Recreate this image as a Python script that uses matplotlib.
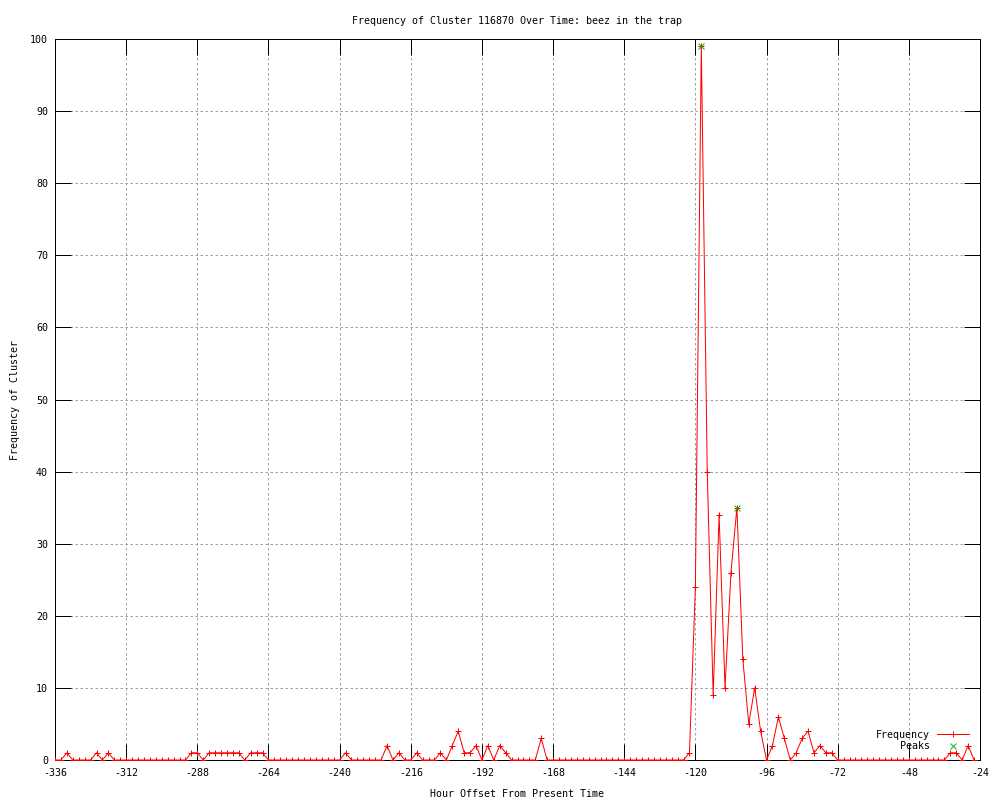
import matplotlib
matplotlib.use("Agg")
import matplotlib.pyplot as plt
import numpy as np

# hour offsets, one sample every 2 hours
hours = np.arange(-336, -24, 2)

# frequency per sample, 12 samples (24 h) per row
frequency = [
    0, 0, 1, 0, 0, 0, 0, 1, 0, 1, 0, 0,       # -336 .. -314
    0, 0, 0, 0, 0, 0, 0, 0, 0, 0, 0, 1,       # -312 .. -290
    1, 0, 1, 1, 1, 1, 1, 1, 0, 1, 1, 1,       # -288 .. -266
    0, 0, 0, 0, 0, 0, 0, 0, 0, 0, 0, 0,       # -264 .. -242
    0, 1, 0, 0, 0, 0, 0, 0, 2, 0, 1, 0,       # -240 .. -218
    0, 1, 0, 0, 0, 1, 0, 2, 4, 1, 1, 2,       # -216 .. -194
    0, 2, 0, 2, 1, 0, 0, 0, 0, 0, 3, 0,       # -192 .. -170
    0, 0, 0, 0, 0, 0, 0, 0, 0, 0, 0, 0,       # -168 .. -146
    0, 0, 0, 0, 0, 0, 0, 0, 0, 0, 0, 1,       # -144 .. -122
    24, 99, 40, 9, 34, 10, 26, 35, 14, 5, 10, 4,  # -120 .. -98
    0, 2, 6, 3, 0, 1, 3, 4, 1, 2, 1, 1,       # -96 .. -74
    0, 0, 0, 0, 0, 0, 0, 0, 0, 0, 0, 0,       # -72 .. -50
    0, 0, 0, 0, 0, 0, 0, 1, 1, 0, 2, 0,       # -48 .. -26
]

peak_hours = [-118, -106]
peak_values = [99, 35]

title = "Frequency of Cluster 116870 Over Time: beez in the trap"
xticks = np.arange(-336, -23, 24)
yticks = np.arange(0, 101, 10)

plt.rcParams['font.family'] = ['DejaVu Sans Mono']
plt.rcParams['font.size'] = 7.2

px = 0.72  # one pixel in points at dpi 100

fig = plt.figure(figsize=(10, 8), dpi=100)
ax = fig.add_axes([0.055, 0.05, 0.925, 0.90125])

ax.plot(hours, frequency, color='red', lw=px, marker='+', ms=5, mew=px,
        label='Frequency', zorder=3)
ax.plot(peak_hours, peak_values, color='#00c000', ls='none', marker='x',
        ms=5, mew=px, label='Peaks', zorder=4)

ax.set_xlim(-336, -24)
ax.set_ylim(0, 100)
ax.set_xticks(xticks)
ax.set_yticks(yticks)
ax.set_xticklabels([str(t) for t in xticks])

ax.grid(True, color='#a0a0a0', lw=px, ls=(0, (2.5, 2.5)))
ax.tick_params(direction='in', length=16 * px, width=px, top=True, right=True,
               color='black')
ax.tick_params(axis='x', pad=6)
ax.tick_params(axis='y', pad=5)
for s in ax.spines.values():
    s.set_linewidth(px)

ax.set_title(title, fontsize=7.2, pad=11)
ax.set_xlabel("Hour Offset From Present Time", labelpad=8)
ax.set_ylabel("Frequency of Cluster", labelpad=7)

ax.legend(loc='lower right', bbox_to_anchor=(0.988, 0.012), frameon=False,
          markerfirst=False, borderpad=0, borderaxespad=0, handlelength=3.2,
          handletextpad=0.7, labelspacing=0.15, fontsize=7.2)

fig.savefig("out.png", dpi=100)
